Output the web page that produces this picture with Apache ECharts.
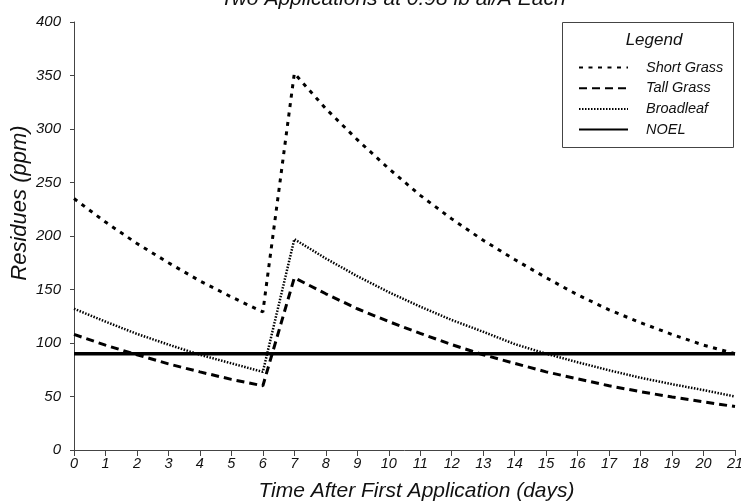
<!DOCTYPE html>
<html>
<head>
<meta charset="utf-8">
<script src="https://cdn.jsdelivr.net/npm/echarts@6/dist/echarts.min.js"></script>
<style>
html, body { margin: 0; padding: 0; background: #fff; }
#chart { width: 741px; height: 504px; }
</style>
</head>
<body>
<div id="chart"></div>
<script>
// days after first application
const days = [0, 1, 2, 3, 4, 5, 6, 7, 8, 9, 10, 11, 12, 13, 14, 15, 16, 17, 18, 19, 20, 21]
const shortGrass = [235, 213, 193, 175, 158, 143, 129, 352, 319, 290, 263, 238, 216, 196, 178, 161, 145, 131, 119, 108, 98, 90]
const tallGrass = [108, 98, 89, 80.5, 73, 66, 60, 161, 146, 132, 120, 109, 98.5, 89, 81, 73, 66.5, 60, 54.5, 49.5, 45, 40.6]
const broadleaf = [132, 120, 108.5, 98.5, 89, 81, 73, 197, 179, 162.5, 147.5, 134, 121.5, 110.5, 99, 90, 82, 74.5, 67.5, 61.5, 56, 50]
const noelDays = [0, 21]
const noel = [90, 90]

const font = "'Liberation Sans', Arial, sans-serif"
const ink = "#111"

function pairs(xs, ys) {
    return xs.map((x, i) => [x, ys[i]])
}

const chart = echarts.init(document.getElementById("chart"), null, { renderer: "canvas" })
chart.setOption({
    animation: false,
    backgroundColor: "#fff",
    title: [
        {
            text: "Two Applications at 0.98 lb ai/A Each",
            left: 388, top: -16, textAlign: "center",
            textStyle: { fontFamily: font, fontStyle: "italic", fontWeight: "normal", fontSize: 21, color: ink },
        },
        {
            text: "Legend",
            left: 649, top: 27, textAlign: "center",
            textStyle: { fontFamily: font, fontStyle: "italic", fontWeight: "normal", fontSize: 17, color: ink },
        },
    ],
    graphic: [{
        type: "rect",
        left: 562, top: 22,
        shape: { width: 171, height: 125 },
        style: { fill: "#fff", stroke: "#444", lineWidth: 1 },
        z: 0,
    }],
    legend: {
        orient: "vertical",
        left: 578, top: 60,
        itemWidth: 49, itemHeight: 14, itemGap: 5.7,
        padding: 0,
        selectedMode: false,
        itemStyle: { opacity: 0 },
        textStyle: { fontFamily: font, fontStyle: "italic", fontSize: 14.5, color: ink, padding: [0, 0, 0, 13] },
        data: ["Short Grass", "Tall Grass", "Broadleaf", "NOEL"],
        z: 5,
    },
    grid: { left: 74, right: 6, top: 22, bottom: 54, outerBoundsMode: "none", containLabel: false },
    xAxis: {
        type: "value",
        min: 0, max: 21, interval: 1,
        name: "Time After First Application (days)",
        nameLocation: "middle",
        nameGap: 31,
        nameMoveOverlap: false,
        nameTextStyle: { fontFamily: font, fontStyle: "italic", fontSize: 21, color: ink, padding: [0, 0, 0, 24] },
        axisLine: { lineStyle: { color: "#444", width: 1 } },
        axisTick: { length: 6, lineStyle: { color: "#444" } },
        axisLabel: { margin: 6, fontFamily: font, fontStyle: "italic", fontSize: 14.5, color: ink },
        splitLine: { show: false },
    },
    yAxis: {
        type: "value",
        min: 0, max: 400, interval: 50,
        name: "Residues (ppm)",
        nameLocation: "middle",
        nameGap: 43,
        nameMoveOverlap: false,
        nameTextStyle: { fontFamily: font, fontStyle: "italic", fontSize: 22, color: ink, padding: [0, 0, 0, 66] },
        axisLine: { show: true, lineStyle: { color: "#444", width: 1 } },
        axisTick: { show: true, length: 4, lineStyle: { color: "#444" } },
        axisLabel: { margin: 13, fontFamily: font, fontStyle: "italic", fontSize: 15, color: ink },
        splitLine: { show: false },
    },
    series: [
        {
            name: "Short Grass", type: "line", symbol: "none",
            data: pairs(days, shortGrass),
            lineStyle: { color: "#000", width: 3, type: [4, 5.5] },
            itemStyle: { color: "#000" },
        },
        {
            name: "Tall Grass", type: "line", symbol: "none",
            data: pairs(days, tallGrass),
            lineStyle: { color: "#000", width: 3, type: [8, 5] },
            itemStyle: { color: "#000" },
        },
        {
            name: "Broadleaf", type: "line", symbol: "none",
            data: pairs(days, broadleaf),
            lineStyle: { color: "#000", width: 2.5, type: [1.5, 1.5] },
            itemStyle: { color: "#000" },
        },
        {
            name: "NOEL", type: "line", symbol: "none",
            data: pairs(noelDays, noel),
            lineStyle: { color: "#000", width: 3.5, type: "solid" },
            itemStyle: { color: "#000" },
        },
    ],
})
</script>
</body>
</html>
